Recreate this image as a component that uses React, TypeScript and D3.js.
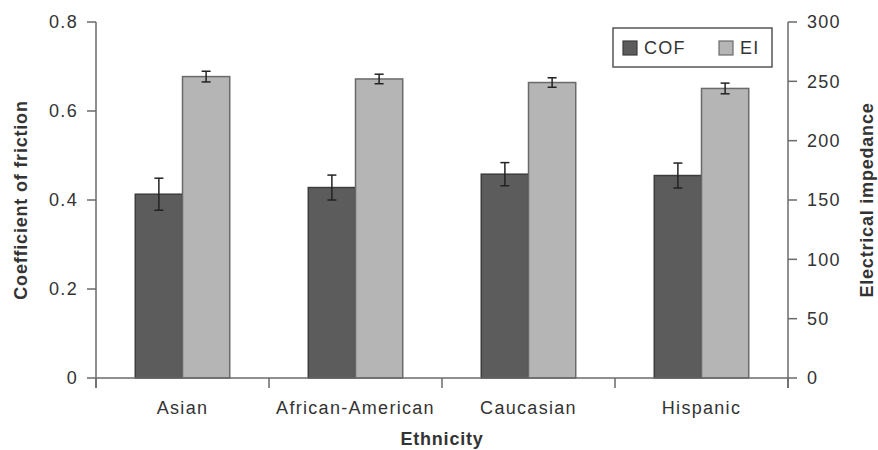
import React from "react";
import * as d3 from "d3";

const categories = ["Asian", "African-American", "Caucasian", "Hispanic"];
const cofValues = [0.413, 0.428, 0.458, 0.455];
const cofErrors = [0.036, 0.028, 0.026, 0.028];
const eiValues = [254, 252, 249, 244];
const eiErrors = [4.5, 4, 4, 4.5];
const leftTicks = [0, 0.2, 0.4, 0.6, 0.8];
const rightTicks = [0, 50, 100, 150, 200, 250, 300];
const seriesNames = ["COF", "EI"];

const W = 878;
const H = 450;
const X0 = 96;
const X1 = 788;
const Y0 = 378;
const Y1 = 22;
const FONT = "'Liberation Sans', Arial, Helvetica, sans-serif";
const TEXT = "#333";
const AXIS = "#6a6a6a";
const COLORS: Record<string, string> = { COF: "#5c5c5c", EI: "#b5b5b5" };
const STROKES: Record<string, string> = { COF: "#3c3c3c", EI: "#6a6a6a" };

export default function App() {
  const x = d3.scaleBand<string>().domain(categories).range([X0, X1]).padding(0);
  const bw = x.bandwidth();
  const inner = d3.scaleBand<string>().domain(seriesNames).range([bw * 0.227, bw * 0.773]).padding(0);
  const yL = d3.scaleLinear().domain([0, 0.8]).range([Y0, Y1]);
  const yR = d3.scaleLinear().domain([0, 300]).range([Y0, Y1]);

  const bars = categories.flatMap((c, i) => [
    { c, s: "COF", v: yL(cofValues[i]), lo: yL(cofValues[i] - cofErrors[i]), hi: yL(cofValues[i] + cofErrors[i]) },
    { c, s: "EI", v: yR(eiValues[i]), lo: yR(eiValues[i] - eiErrors[i]), hi: yR(eiValues[i] + eiErrors[i]) },
  ]);

  const edges = [...categories.map((c) => x(c) as number), X1];
  const textStyle = { fontFamily: FONT, fill: TEXT, fontSize: 18, letterSpacing: 1.3 } as const;

  return (
    <svg width={W} height={H} style={{ position: "absolute", left: 0, top: 0, background: "#fff" }}>
      {/* bars */}
      {bars.map((b, i) => {
        const bx = (x(b.c) as number) + (inner(b.s) as number);
        const cx = bx + inner.bandwidth() / 2;
        return (
          <g key={i}>
            <rect x={bx} y={b.v} width={inner.bandwidth()} height={Y0 - b.v} fill={COLORS[b.s]} stroke={STROKES[b.s]} strokeWidth={1.5} />
            <line x1={cx} x2={cx} y1={b.hi} y2={b.lo} stroke="#222" strokeWidth={1.5} />
            <line x1={cx - 4.5} x2={cx + 4.5} y1={b.hi} y2={b.hi} stroke="#222" strokeWidth={1.5} />
            <line x1={cx - 4.5} x2={cx + 4.5} y1={b.lo} y2={b.lo} stroke="#222" strokeWidth={1.5} />
          </g>
        );
      })}

      {/* axes lines */}
      <line x1={X0} x2={X0} y1={Y1} y2={Y0 + 10} stroke={AXIS} strokeWidth={1.5} />
      <line x1={X1} x2={X1} y1={Y1} y2={Y0 + 10} stroke={AXIS} strokeWidth={1.5} />
      <line x1={X0} x2={X1} y1={Y0} y2={Y0} stroke={AXIS} strokeWidth={1.5} />
      {edges.map((e, i) => (
        <line key={"e" + i} x1={e} x2={e} y1={Y0} y2={Y0 + 10} stroke={AXIS} strokeWidth={1.5} />
      ))}

      {/* left ticks */}
      {leftTicks.map((t) => (
        <g key={"l" + t}>
          <line x1={X0 - 9} x2={X0} y1={yL(t)} y2={yL(t)} stroke={AXIS} strokeWidth={1.5} />
          <text x={X0 - 18} y={yL(t)} dy="0.36em" textAnchor="end" {...textStyle}>
            {d3.format("")(t)}
          </text>
        </g>
      ))}

      {/* right ticks */}
      {rightTicks.map((t) => (
        <g key={"r" + t}>
          <line x1={X1} x2={X1 + 9} y1={yR(t)} y2={yR(t)} stroke={AXIS} strokeWidth={1.5} />
          <text x={X1 + 19} y={yR(t)} dy="0.36em" textAnchor="start" {...textStyle}>
            {t}
          </text>
        </g>
      ))}

      {/* category labels */}
      {categories.map((c) => (
        <text key={c} x={(x(c) as number) + bw / 2} y={414} textAnchor="middle" {...textStyle}>
          {c}
        </text>
      ))}

      {/* axis titles */}
      <text x={(X0 + X1) / 2} y={445} textAnchor="middle" {...textStyle} fontWeight="bold" letterSpacing={0.8}>
        Ethnicity
      </text>
      <text transform={`translate(27,${(Y0 + Y1) / 2}) rotate(-90)`} textAnchor="middle" {...textStyle} fontWeight="bold" letterSpacing={0.8}>
        Coefficient of friction
      </text>
      <text transform={`translate(873,${(Y0 + Y1) / 2}) rotate(-90)`} textAnchor="middle" {...textStyle} fontWeight="bold" letterSpacing={0.8}>
        Electrical impedance
      </text>

      {/* legend */}
      <rect x={613} y={28} width={159} height={39} fill="#fff" stroke="#555" strokeWidth={1.5} />
      {seriesNames.map((s, i) => {
        const lx = i === 0 ? 623 : 719;
        return (
          <g key={s}>
            <rect x={lx} y={41} width={14} height={14} fill={COLORS[s]} stroke={STROKES[s]} strokeWidth={1.2} />
            <text x={lx + 21} y={48} dy="0.36em" {...textStyle}>
              {s}
            </text>
          </g>
        );
      })}
    </svg>
  );
}
